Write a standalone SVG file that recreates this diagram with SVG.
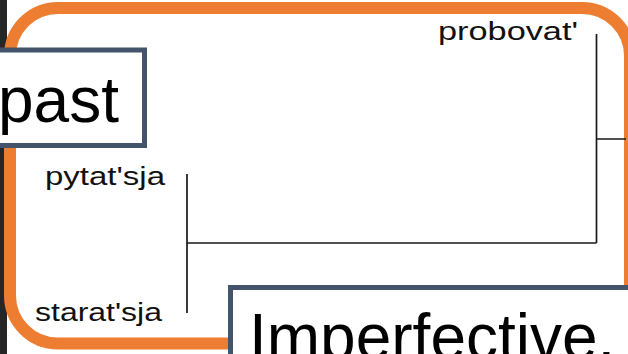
<svg xmlns="http://www.w3.org/2000/svg" width="628" height="354" viewBox="0 0 628 354">
  <style>
    .frame { fill: none; stroke: #ED7D31; stroke-width: 12; }
    .box { fill: #FFFFFF; stroke: #44546A; stroke-width: 5; }
    .big { font-family: "Liberation Sans", Arial, sans-serif; font-size: 64px; fill: #000000; }
    .lbl { font-family: "Liberation Sans", Arial, sans-serif; font-size: 25px; fill: #111111; }
    .edge { fill: none; stroke: #1A1A1A; stroke-width: 1.7; }
  </style>
  <rect x="0" y="0" width="628" height="354" fill="#FFFFFF"/>
  <rect x="0" y="0" width="7" height="354" fill="#262626"/>
  <rect class="frame" x="10" y="8" width="620" height="335.5" rx="48" ry="48"/>
  <g id="connectors">
    <path class="edge" d="M596.5,34 V243 M596.5,139 H626 M187,243 H596.5 M187,174 V313"/>
  </g>
  <g id="node-probovat">
    <text class="lbl" x="438" y="40" textLength="140" lengthAdjust="spacingAndGlyphs">probovat'</text>
  </g>
  <g id="node-pytatsja">
    <text class="lbl" x="45" y="185" textLength="120" lengthAdjust="spacingAndGlyphs">pytat'sja</text>
  </g>
  <g id="node-staratsja">
    <text class="lbl" x="35" y="321" textLength="127" lengthAdjust="spacingAndGlyphs">starat'sja</text>
  </g>
  <g id="node-past">
    <rect class="box" x="-20" y="50" width="164.5" height="95.5"/>
    <text class="big" x="-2" y="122">past</text>
  </g>
  <g id="node-imperfective">
    <rect class="box" x="230.5" y="287.5" width="420" height="100"/>
    <text class="big" x="249" y="358.5">Imperfective.</text>
  </g>
</svg>
